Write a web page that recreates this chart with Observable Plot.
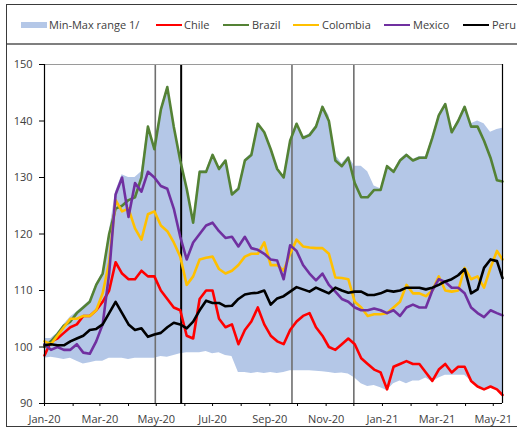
<!DOCTYPE html>
<html>
<head>
<meta charset="utf-8">
<script src="https://cdn.jsdelivr.net/npm/d3@7"></script>
<script src="https://cdn.jsdelivr.net/npm/@observablehq/plot@0.6"></script>
<style>
  body { margin: 0; background: #fff; }
  #wrap { position: relative; width: 517px; height: 428px; overflow: hidden; font-family: "Open Sans", "Noto Sans", sans-serif; color: #404040; }
  #frame { position: absolute; left: 6px; top: 4px; width: 540px; height: 423px; border: 1px solid #3a3a3a; box-sizing: border-box; pointer-events: none; }
  #sep { position: absolute; left: 7px; top: 43px; width: 520px; height: 2px; background: #7f7f7f; }
  .sw { position: absolute; }
  .lt { position: absolute; top: 17px; font-size: 11px; line-height: 16px; white-space: nowrap; color: #404040; }
  #chart { position: absolute; left: 0; top: 45px; }
</style>
</head>
<body>
<div id="wrap">
  <div id="legend"></div>
  <div id="sep"></div>
  <div id="chart"></div>
  <div id="frame"></div>
</div>
<script>
// Weekly readings (Wednesdays from 1 Jan 2020), plus the last observation on 11 May 2021.
const startDate = new Date(Date.UTC(2020, 0, 1));
const lastDate = new Date(Date.UTC(2021, 4, 11));

const chile = [98.5,101,101.5,102.5,103.5,104,105.5,105.5,106.5,108,110,115,
  113,112,112,113.5,112.5,112.5,110,108.5,107,106.5,102,101.5,
  108.5,110,110,105,103.5,104,100.5,103,104.5,107,104,102,
  101,100.5,103,104.5,105.5,106,103.5,102,100,99.5,100.5,
  101.5,100.5,98,97,96,95.5,92.5,96.5,97,97.5,97,97,
  95.5,94,96,97,95.5,96.5,96.5,94,93,92.5,93,92.5,91.5];

const brazil = [100,101,102.3,103.8,104.5,106,107,108,111,113,120,124.5,
  125,126,126.5,130,139,135,142,146,139,133,128,122,
  131,131,134,131.5,133,127,128,133,134,139.5,138,135,
  131.5,130,136.5,139.5,137,137.5,139,142.5,140,133,132,
  133.5,129,126.5,126.5,127.8,127.8,132,131,133,134,133,133.5,
  133.5,137,141,143,138,140,142.5,139,139,136.5,133.5,129.5,129.3];

const colombia = [101,100.5,102,103.5,105,105,105.5,105.5,106.5,109.5,115,126,
  124,124.5,121,119,123.5,124,121.5,120.5,118.5,116,111,112.5,
  115.5,115.8,116,113.8,113,113.5,114.5,116,116.5,116.5,118.5,114.5,
  114.5,113.5,116.5,119,117.8,117.6,117.5,117.5,116.5,112.3,112.2,
  112,108,107,105.5,105.8,105.8,106,107,108,111,109.5,109.5,
  109,110,112.5,110,109.8,110,114,112,112.5,110.5,114,117,115.5];

const mexico = [100.5,99.5,100,99.5,99.5,100.5,99,98.8,101,104,113,127,
  130,123,129,127.5,131,130,128.5,128,124.5,119.5,115.5,118.5,
  120,121.5,122,120.5,119.3,119.5,117.8,119.5,117.5,117.2,116.5,115.5,
  115.3,112,118,117,114.5,113,111.8,113,111,109.8,108.5,
  108,107,106.5,106.5,106.8,106.5,106,106.5,105.5,107,107.5,107,
  107,110,112,111.5,110.5,110.5,109.5,107,106,105.3,106.5,106,105.6];

const peru = [100.3,100.5,100.3,100.3,101,101.5,102,103,103.2,104,106,108,
  106,104,103,103.3,101.8,102.2,102.5,103.5,104.3,104,103.3,104.5,
  106.5,108.2,107.8,107.8,107.2,107.3,108.5,109.3,109.5,109.6,110,107.5,
  108.6,109,109.8,110.6,110.2,109.8,110.5,110,109.5,110.5,110,
  109.6,109.8,109.8,109.2,109.2,109.5,110,109.8,110,110.5,110.5,110.5,
  110.2,110.5,111,111.6,112,112.7,113.8,109.5,110.2,114,115.5,115.2,112.2];

// Min-max range across the comparison group (footnote 1/)
const rangeMax = [101.5,101.5,102.5,104,105.3,106.2,107.2,108.2,111.2,113.2,120.2,127.5,
  130.5,130,130,131,139.2,135.5,142.2,146.2,139.2,133.2,128.2,122.7,
  131.2,131.2,134.2,131.7,133.2,127.2,128.2,133.2,134.2,139.7,138.2,135.2,
  131.7,130.2,136.7,139.7,137.2,137.7,139.2,142.8,141,134,132.5,
  133.7,132,132,131,128.5,128,132.2,131.2,133.2,134.2,133.2,133.7,
  133.7,137.2,141.2,143.2,138.2,140.2,142.7,139.5,140,139.5,138,138.5,138.7];

const rangeMin = [98,98.2,98,97.8,98,97.5,97,97.2,97.5,97.5,98,98,
  98,97.8,98,98,98,98,98.3,98.2,98.5,98.8,99,99,
  99,99.2,98.8,99,98.5,98.3,95.5,95.5,95.3,95.5,95.3,95.5,
  95.3,95.5,95.8,95.8,95.8,95.8,95.7,95.6,95.5,95.3,95.4,
  95.2,94.5,93.5,93,93.2,92.8,92.3,93.5,94,93.5,94,94,
  94.5,93.8,94.5,95,95,95,95,94,93,92.5,93,92.5,91.5];

// Vertical event markers
const grayMarkers = ["2020-04-30", "2020-09-25", "2020-12-01"];
const blackMarkers = ["2020-05-28"];

const yTicks = [90, 100, 110, 120, 130, 140, 150];

const seriesNames = ["Chile", "Brazil", "Colombia", "Mexico", "Peru"];
const seriesColors = ["#FF0000", "#548235", "#FFC000", "#7030A0", "#000000"];
const seriesValues = [chile, brazil, colombia, mexico, peru];
const rangeLabel = "Min-Max range 1/";
const rangeColor = "#B4C7E7";

const dates = chile.map((_, i) => i < chile.length - 1 ? d3.utcDay.offset(startDate, 7 * i) : lastDate);
const bandRows = dates.map((d, i) => ({date: d, lo: rangeMin[i], hi: rangeMax[i]}));
const monthTicks = d3.utcMonth.range(startDate, d3.utcDay.offset(lastDate, 1));
const labelTicks = monthTicks.filter((d, i) => i % 2 === 0);

const lineMarks = seriesValues.map((vals, s) =>
  Plot.line(vals.map((v, i) => ({date: dates[i], value: v})), {
    x: "date", y: "value", stroke: seriesColors[s], strokeWidth: 2.6,
    strokeLinejoin: "round", strokeLinecap: "round"
  })
);

const parse = d3.utcParse("%Y-%m-%d");

const chart = Plot.plot({
  width: 517,
  height: 383,
  marginLeft: 44,
  marginRight: 15,
  marginTop: 19,
  marginBottom: 25,
  style: {background: "transparent", fontFamily: "'Open Sans', 'Noto Sans', sans-serif", fontSize: "11px", color: "#404040"},
  x: {type: "utc", domain: [startDate, lastDate]},
  y: {domain: [90, 150]},
  marks: [
    Plot.areaY(bandRows, {x: "date", y1: "lo", y2: "hi", fill: rangeColor}),
    Plot.ruleX(grayMarkers.map(parse), {stroke: "#6f6f6f", strokeWidth: 1.6}),
    Plot.ruleX(blackMarkers.map(parse), {stroke: "#000", strokeWidth: 2}),
    ...lineMarks,
    Plot.ruleY([150], {stroke: "#9a9a9a", strokeWidth: 1.2}),
    Plot.ruleX([lastDate], {stroke: "#000", strokeWidth: 1.2}),
    Plot.ruleX([startDate], {stroke: "#000", strokeWidth: 1.2}),
    Plot.ruleY([90], {stroke: "#000", strokeWidth: 1.2}),
    Plot.axisY({ticks: yTicks, tickSize: 5, tickPadding: 7, stroke: "#000", fill: "#404040", label: null}),
    Plot.axisX({ticks: monthTicks, tickSize: 3, text: null, stroke: "#000", label: null}),
    Plot.axisX({ticks: labelTicks, tickSize: 0, tickPadding: 12, tickFormat: d3.utcFormat("%b-%y"), fill: "#404040", label: null})
  ]
});
document.getElementById("chart").appendChild(chart);

// Legend
const legend = document.getElementById("legend");
const items = [
  {label: rangeLabel, color: rangeColor, band: true, sx: 21, tx: 49},
  ...seriesNames.map((n, i) => ({label: n, color: seriesColors[i], band: false,
    sx: [156, 223, 293, 384, 463][i], tx: [184, 252, 322, 413, 492][i]}))
];
for (const it of items) {
  const sw = document.createElement("div");
  sw.className = "sw";
  sw.style.left = it.sx + "px";
  sw.style.width = "26px";
  sw.style.background = it.color;
  sw.style.top = it.band ? "22px" : "24px";
  sw.style.height = it.band ? "6px" : "2px";
  legend.appendChild(sw);
  const t = document.createElement("div");
  t.className = "lt";
  t.style.left = it.tx + "px";
  t.textContent = it.label;
  legend.appendChild(t);
}
</script>
</body>
</html>
